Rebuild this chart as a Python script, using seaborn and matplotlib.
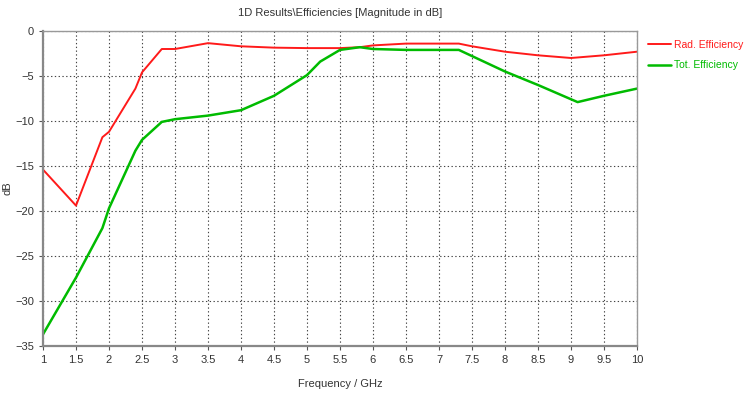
import matplotlib
matplotlib.use("Agg")
import matplotlib.pyplot as plt
import seaborn as sns
import pandas as pd

rad_freq = [1.0, 1.5, 1.9, 2.0, 2.4, 2.5, 2.8, 3.0, 3.5, 4.0, 4.5, 5.0, 5.5, 5.8, 6.0, 6.5, 7.0, 7.3, 7.5, 8.0, 8.5, 9.0, 9.5, 10.0]
rad_eff = [-15.4, -19.4, -11.8, -11.2, -6.4, -4.6, -2.0, -2.0, -1.35, -1.7, -1.85, -1.9, -1.9, -1.8, -1.6, -1.4, -1.4, -1.4, -1.7, -2.3, -2.7, -3.0, -2.7, -2.3]
tot_freq = [1.0, 1.5, 1.9, 2.0, 2.4, 2.5, 2.8, 3.0, 3.5, 4.0, 4.5, 5.0, 5.2, 5.5, 5.8, 6.0, 6.5, 7.0, 7.3, 8.0, 8.5, 9.1, 9.5, 10.0]
tot_eff = [-33.7, -27.4, -21.9, -19.7, -13.3, -12.1, -10.1, -9.8, -9.4, -8.8, -7.2, -4.9, -3.4, -2.1, -1.8, -2.0, -2.1, -2.1, -2.1, -4.5, -6.0, -7.9, -7.2, -6.4]
x_ticks = [1, 1.5, 2, 2.5, 3, 3.5, 4, 4.5, 5, 5.5, 6, 6.5, 7, 7.5, 8, 8.5, 9, 9.5, 10]
y_ticks = [0, -5, -10, -15, -20, -25, -30, -35]

sns.set_style("white")
plt.rcParams['font.family'] = ['Liberation Sans', 'DejaVu Sans']

fig = plt.figure(figsize=(7.44, 3.98), dpi=100)
ax = fig.add_axes([43/744, 1 - 346/398, (637-43)/744, (346-31)/398])

df_rad = pd.DataFrame({"f": rad_freq, "v": rad_eff})
df_tot = pd.DataFrame({"f": tot_freq, "v": tot_eff})
sns.lineplot(data=df_rad, x="f", y="v", ax=ax, color="#ff1a1a", linewidth=1.4, label="Rad. Efficiency", sort=False)
sns.lineplot(data=df_tot, x="f", y="v", ax=ax, color="#00bb00", linewidth=1.8, label="Tot. Efficiency", sort=False)

ax.set_xlim(1, 10)
ax.set_ylim(-35, 0)
ax.set_xticks(x_ticks)
ax.set_xticklabels([f"{t:g}" for t in x_ticks])
ax.set_yticks(y_ticks)
ax.set_yticklabels([f"\u2212{abs(t)}" if t < 0 else "0" for t in y_ticks])
ax.tick_params(axis='both', labelsize=8, colors="#333333", length=3, direction='out')
ax.tick_params(axis='both', which='both', bottom=True, left=True, color="#555555")
ax.grid(True, color="#444444", linestyle=(0, (1.2, 2.2)), linewidth=0.8)
for side in ["left", "bottom"]:
    ax.spines[side].set_color("#888888")
    ax.spines[side].set_linewidth(1.6)
for side in ["top", "right"]:
    ax.spines[side].set_color("#999999")
    ax.spines[side].set_linewidth(1.0)

ax.set_xlabel("Frequency / GHz", fontsize=8, color="#333333", labelpad=10)
ax.set_ylabel("dB", fontsize=8, color="#333333", labelpad=2)
ax.set_title("1D Results\\Efficiencies [Magnitude in dB]", fontsize=8, color="#333333", pad=11)

leg = ax.legend(loc="upper left", bbox_to_anchor=(1.007, 0.995), frameon=False, fontsize=7.5,
                handlelength=2.2, handletextpad=0.3, labelspacing=1.0, borderaxespad=0.3)
for t, c in zip(leg.get_texts(), ["#ff1a1a", "#00bb00"]):
    t.set_color(c)

fig.savefig("out.png", dpi=100)
